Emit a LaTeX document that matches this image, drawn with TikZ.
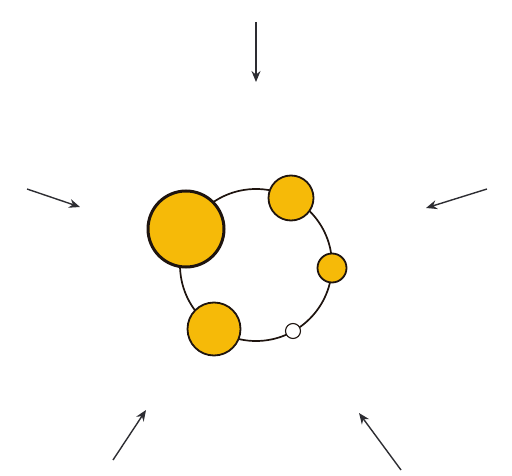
\documentclass[tikz,border=0pt]{standalone}
\usetikzlibrary{arrows.meta}
\definecolor{gold}{RGB}{246,186,8}
\definecolor{ink}{RGB}{30,20,15}
\definecolor{arrowgray}{RGB}{45,45,50}
\begin{document}
\begin{tikzpicture}[x=1bp,y=-1bp,
  ball/.style={circle,draw=ink,fill=gold,line width=1.8bp,inner sep=0pt},
  bigball/.style={ball,line width=3bp},
  hollow/.style={circle,draw=ink,fill=white,line width=1.1bp,inner sep=0pt},
  inarrow/.style={draw=arrowgray,line width=1.4bp,-{Stealth[length=11bp,width=9bp]}},
  ring/.style={draw=ink,line width=1.7bp}]
\useasboundingbox (0,0) rectangle (512,476);
\coordinate (c) at (256,265);
\draw[ring] (c) circle[radius=76];
\node[bigball,minimum size=76bp] (big) at (186,229) {};
\node[ball,minimum size=45bp] (tr) at (291,198) {};
\node[ball,minimum size=29bp] (sm) at (332,268) {};
\node[hollow,minimum size=15bp] (wh) at (293,331) {};
\node[ball,minimum size=53bp] (bl) at (214,329) {};
\coordinate (s1) at (256,22);  \coordinate (t1) at (256,82);
\coordinate (s2) at (27,189);  \coordinate (t2) at (80,207);
\coordinate (s3) at (487,189); \coordinate (t3) at (426,208);
\coordinate (s4) at (113,460); \coordinate (t4) at (146,410);
\coordinate (s5) at (401,470); \coordinate (t5) at (359,413);
\foreach \i in {1,...,5} \draw[inarrow] (s\i) -- (t\i);
\end{tikzpicture}
\end{document}
